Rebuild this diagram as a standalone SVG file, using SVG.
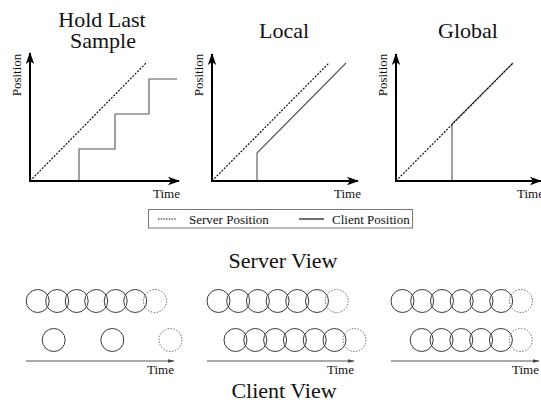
<svg xmlns="http://www.w3.org/2000/svg" width="541" height="402" viewBox="0 0 541 402" font-family="'Liberation Serif', 'Times New Roman', serif">
  <style>
    text { fill: #111; }
    .title { font-size: 22px; text-anchor: middle; }
    .small { font-size: 13px; }
    .axis { stroke: #000; stroke-width: 2; fill: none; }
    .server { stroke: #111; stroke-width: 1.2; stroke-dasharray: 2 1.4; fill: none; }
    .client { stroke: #555; stroke-width: 1.1; fill: none; }
    .ball { stroke: #3a3a3a; stroke-width: 1; fill: none; }
    .ghost { stroke: #666; stroke-width: 1; stroke-dasharray: 1.5 1.5; fill: none; }
    .timeline { stroke: #555; stroke-width: 1; fill: none; }
  </style>
  <defs>
    <marker id="axisHead" markerWidth="12" markerHeight="10" refX="11" refY="5" orient="auto" markerUnits="userSpaceOnUse">
      <path d="M0,0.8 L12,5 L0,9.2 L3,5 Z" fill="#000"/>
    </marker>
    <marker id="timeHead" markerWidth="7" markerHeight="5" refX="6.5" refY="2.5" orient="auto" markerUnits="userSpaceOnUse">
      <path d="M0,0.6 L7,2.5 L0,4.4 Z" fill="#444"/>
    </marker>
    <circle id="b" r="11.5" class="ball"/>
    <circle id="g" r="11.5" class="ghost"/>
  </defs>

  <!-- Chart 1: hold last sample -->
  <g id="chart-hold">
    <text class="title" x="102" y="27">Hold Last</text>
    <text class="title" x="103" y="48">Sample</text>
    <text class="small" transform="translate(21,75) rotate(-90)" text-anchor="middle">Position</text>
    <text class="small" x="153" y="198">Time</text>
    <path class="server" d="M30,181 L147,62"/>
    <path class="client" d="M79,181 V149 H115 V114 H149 V79 H177"/>
  </g>

  <!-- Chart 2: local -->
  <g id="chart-local">
    <text class="title" x="284" y="38">Local</text>
    <text class="small" transform="translate(203,75) rotate(-90)" text-anchor="middle">Position</text>
    <text class="small" x="334" y="198">Time</text>
    <path class="server" d="M212,181 L329,63"/>
    <path class="client" d="M257,181 V153 L346,63"/>
  </g>

  <!-- Chart 3: global -->
  <g id="chart-global">
    <text class="title" x="468" y="38">Global</text>
    <text class="small" transform="translate(387,75) rotate(-90)" text-anchor="middle">Position</text>
    <text class="small" x="517" y="198">Time</text>
    <path class="client" d="M452,181 V124 L513,63"/>
    <path class="server" d="M396,181 L513,63"/>
  </g>

  <!-- Legend -->
  <g id="legend">
    <rect x="148.5" y="209.5" width="264" height="18.5" fill="none" stroke="#777" stroke-width="1"/>
    <path d="M158,219 H176" stroke="#111" stroke-width="1" stroke-dasharray="1.5 1.2"/>
    <text class="small" x="189" y="224">Server Position</text>
    <path d="M299,219 H324" stroke="#111" stroke-width="1.2"/>
    <text class="small" x="332" y="224">Client Position</text>
  </g>

  <!-- View labels -->
  <g id="labels">
    <text class="title" x="283" y="268">Server View</text>
    <text class="title" x="284" y="398">Client View</text>
  </g>

  <!-- Timeline 1 -->
  <g id="timeline-hold">
    <use href="#b" x="37.7" y="301"/>
    <use href="#b" x="57.2" y="301"/>
    <use href="#b" x="76.7" y="301"/>
    <use href="#b" x="96.2" y="301"/>
    <use href="#b" x="115.7" y="301"/>
    <use href="#b" x="135.2" y="301"/>
    <use href="#g" x="155" y="301"/>
    <use href="#b" x="53.7" y="340"/>
    <use href="#b" x="112.3" y="340"/>
    <use href="#g" x="170.5" y="340"/>
    <text class="small" x="174" y="374" text-anchor="end">Time</text>
  </g>

  <!-- Timeline 2 -->
  <g id="timeline-local">
    <use href="#b" x="218.5" y="301"/>
    <use href="#b" x="238.2" y="301"/>
    <use href="#b" x="257.9" y="301"/>
    <use href="#b" x="277.6" y="301"/>
    <use href="#b" x="297.3" y="301"/>
    <use href="#b" x="317" y="301"/>
    <use href="#g" x="336.7" y="301"/>
    <use href="#b" x="235.5" y="340"/>
    <use href="#b" x="255.3" y="340"/>
    <use href="#b" x="275.1" y="340"/>
    <use href="#b" x="294.9" y="340"/>
    <use href="#b" x="314.7" y="340"/>
    <use href="#b" x="334.5" y="340"/>
    <use href="#g" x="354.5" y="340"/>
    <text class="small" x="354" y="374" text-anchor="end">Time</text>
  </g>

  <!-- Timeline 3 -->
  <g id="timeline-global">
    <use href="#b" x="402.5" y="301"/>
    <use href="#b" x="422.2" y="301"/>
    <use href="#b" x="442" y="301"/>
    <use href="#b" x="461.7" y="301"/>
    <use href="#b" x="481.5" y="301"/>
    <use href="#b" x="501.2" y="301"/>
    <use href="#g" x="521" y="301"/>
    <use href="#b" x="421.7" y="340"/>
    <use href="#b" x="441.5" y="340"/>
    <use href="#b" x="461.3" y="340"/>
    <use href="#b" x="481.1" y="340"/>
    <use href="#b" x="500.9" y="340"/>
    <use href="#g" x="520.7" y="340"/>
    <text class="small" x="539" y="374" text-anchor="end">Time</text>
  </g>

  <!-- Axes and arrows -->
  <g id="connectors">
    <path class="axis" d="M30,182 V53" marker-end="url(#axisHead)"/>
    <path class="axis" d="M29,181 H179" marker-end="url(#axisHead)"/>
    <path class="axis" d="M212,182 V54" marker-end="url(#axisHead)"/>
    <path class="axis" d="M211,181 H358" marker-end="url(#axisHead)"/>
    <path class="axis" d="M396,182 V54" marker-end="url(#axisHead)"/>
    <path class="axis" d="M395,181 H541" marker-end="url(#axisHead)"/>
    <path class="timeline" d="M26,361 H174" marker-end="url(#timeHead)"/>
    <path class="timeline" d="M207,361 H354" marker-end="url(#timeHead)"/>
    <path class="timeline" d="M391,361 H539" marker-end="url(#timeHead)"/>
  </g>
</svg>
